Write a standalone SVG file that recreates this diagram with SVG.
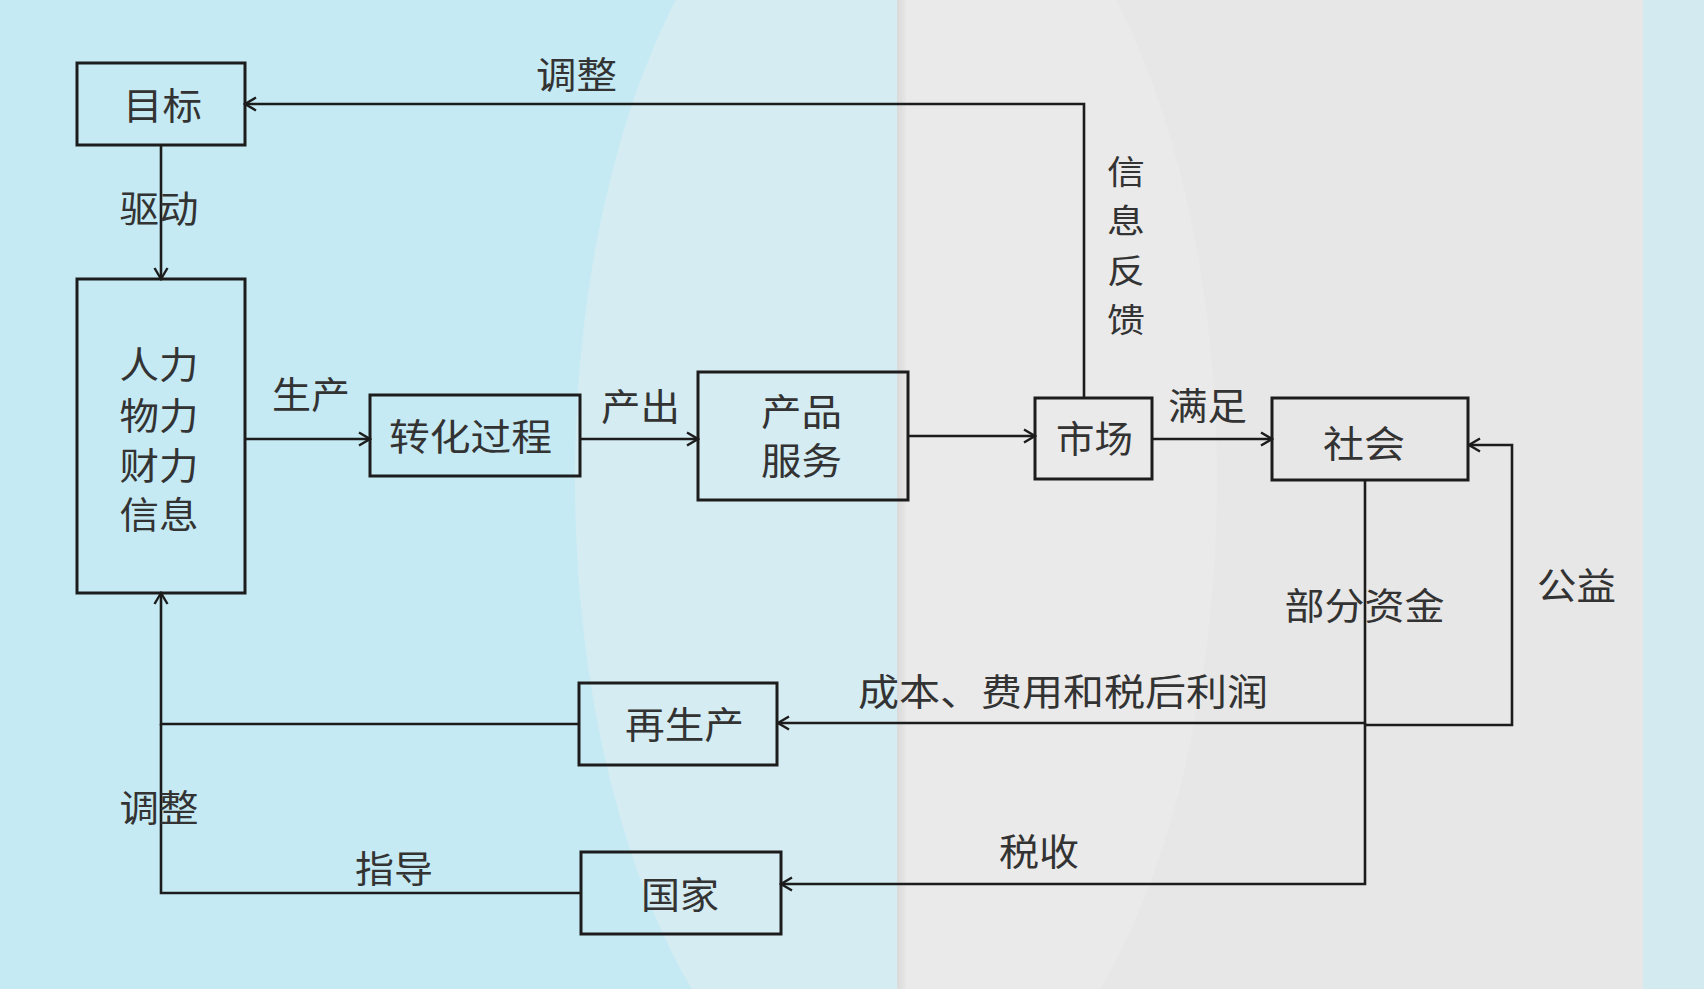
<svg xmlns="http://www.w3.org/2000/svg" width="1704" height="989" viewBox="0 0 1704 989">
<defs>
<style>
.box{fill:none;stroke:#1c1c1c;stroke-width:3}
.ln{fill:none;stroke:#1c1c1c;stroke-width:2.6}
.t{font-family:"Noto Sans CJK SC","Noto Sans",sans-serif;font-size:37px;fill:#333;text-anchor:middle;dominant-baseline:central}
.v{font-size:33px}
</style>
<marker id="ah" viewBox="0 0 16 16" markerWidth="16" markerHeight="16" refX="14" refY="8" orient="auto" markerUnits="userSpaceOnUse">
<path d="M3,1.5 L14,8 L3,14.5" fill="none" stroke="#1c1c1c" stroke-width="2.4"/>
</marker>
<clipPath id="cl"><rect x="0" y="0" width="897" height="989"/></clipPath>
<clipPath id="cr"><rect x="897" y="0" width="746" height="989"/></clipPath>
<linearGradient id="sh" x1="0" x2="1" y1="0" y2="0">
<stop offset="0" stop-color="#d9d9d9"/><stop offset="1" stop-color="#e7e7e7"/>
</linearGradient>
</defs>
<g id="background">
<rect x="0" y="0" width="1704" height="989" fill="#c5eaf3"/>
<rect x="897" y="0" width="746" height="989" fill="#e7e7e7"/>
<rect x="1643" y="0" width="61" height="989" fill="#d3ebf0"/>
<ellipse cx="896" cy="480" rx="321" ry="660" fill="#d4ecf2" clip-path="url(#cl)"/>
<ellipse cx="896" cy="480" rx="321" ry="660" fill="#eaeaea" clip-path="url(#cr)"/>
<rect x="897" y="0" width="9" height="989" fill="url(#sh)"/>
</g>
<g id="connectors">
<path class="ln" d="M161 145 V279" marker-end="url(#ah)"/>
<path class="ln" d="M245 439 H370" marker-end="url(#ah)"/>
<path class="ln" d="M580 439 H698" marker-end="url(#ah)"/>
<path class="ln" d="M908 436 H1035" marker-end="url(#ah)"/>
<path class="ln" d="M1084 398 V104 H245" marker-end="url(#ah)"/>
<path class="ln" d="M1152 439 H1272" marker-end="url(#ah)"/>
<path class="ln" d="M1365 480 V723 H778" marker-end="url(#ah)"/>
<path class="ln" d="M1365 723 V884 H781" marker-end="url(#ah)"/>
<path class="ln" d="M1365 725 H1512 V445 H1469" marker-end="url(#ah)" stroke="#3a3a3a"/>
<path class="ln" d="M579 724 H161 V593" marker-end="url(#ah)"/>
<path class="ln" d="M581 893 H161 V724"/>
<text class="t" x="576.5" y="73" textLength="81" lengthAdjust="spacingAndGlyphs">调整</text>
<text class="t" x="159" y="207" textLength="79" lengthAdjust="spacingAndGlyphs">驱动</text>
<text class="t" x="311" y="393" textLength="78" lengthAdjust="spacingAndGlyphs">生产</text>
<text class="t" x="640.5" y="405" textLength="79" lengthAdjust="spacingAndGlyphs">产出</text>
<text class="t v" transform="translate(1126 0) scale(1.15 1)"><tspan x="0" y="169">信</tspan><tspan x="0" y="218">息</tspan><tspan x="0" y="268">反</tspan><tspan x="0" y="317">馈</tspan></text>
<text class="t" x="1207.5" y="403.5" textLength="79" lengthAdjust="spacingAndGlyphs">满足</text>
<text class="t" x="1364.5" y="604" textLength="160" lengthAdjust="spacingAndGlyphs">部分资金</text>
<text class="t" x="1576.5" y="584" textLength="79" lengthAdjust="spacingAndGlyphs">公益</text>
<text class="t" x="1063" y="690" textLength="410" lengthAdjust="spacingAndGlyphs">成本、费用和税后利润</text>
<text class="t" x="159" y="806" textLength="79" lengthAdjust="spacingAndGlyphs">调整</text>
<text class="t" x="394" y="866.5" textLength="78" lengthAdjust="spacingAndGlyphs">指导</text>
<text class="t" x="1039" y="850" textLength="80" lengthAdjust="spacingAndGlyphs">税收</text>
</g>
<g id="node-mubiao">
<rect class="box" x="77" y="63" width="168" height="82"/>
<text class="t" x="162.5" y="103.5" textLength="79" lengthAdjust="spacingAndGlyphs">目标</text>
</g>
<g id="node-ziyuan">
<rect class="box" x="77" y="279" width="168" height="314"/>
<text class="t" x="159" y="363" textLength="79" lengthAdjust="spacingAndGlyphs">人力</text>
<text class="t" x="159" y="414" textLength="79" lengthAdjust="spacingAndGlyphs">物力</text>
<text class="t" x="159" y="464" textLength="79" lengthAdjust="spacingAndGlyphs">财力</text>
<text class="t" x="159" y="513" textLength="79" lengthAdjust="spacingAndGlyphs">信息</text>
</g>
<g id="node-zhuanhua">
<rect class="box" x="370" y="395" width="210" height="81"/>
<text class="t" x="470.5" y="434.5" textLength="163" lengthAdjust="spacingAndGlyphs">转化过程</text>
</g>
<g id="node-chanpin">
<rect class="box" x="698" y="372" width="210" height="128"/>
<text class="t" x="801.5" y="410" textLength="81" lengthAdjust="spacingAndGlyphs">产品</text>
<text class="t" x="801.5" y="459" textLength="81" lengthAdjust="spacingAndGlyphs">服务</text>
</g>
<g id="node-shichang">
<rect class="box" x="1035" y="398" width="117" height="81"/>
<text class="t" x="1094.5" y="437" textLength="77" lengthAdjust="spacingAndGlyphs">市场</text>
</g>
<g id="node-shehui">
<rect class="box" x="1272" y="398" width="196" height="82"/>
<text class="t" x="1364" y="442" textLength="82" lengthAdjust="spacingAndGlyphs">社会</text>
</g>
<g id="node-zaishengchan">
<rect class="box" x="579" y="683" width="198" height="82"/>
<text class="t" x="684.5" y="722.5" textLength="119" lengthAdjust="spacingAndGlyphs">再生产</text>
</g>
<g id="node-guojia">
<rect class="box" x="581" y="852" width="200" height="82"/>
<text class="t" x="680" y="893" textLength="78" lengthAdjust="spacingAndGlyphs">国家</text>
</g>
</svg>
